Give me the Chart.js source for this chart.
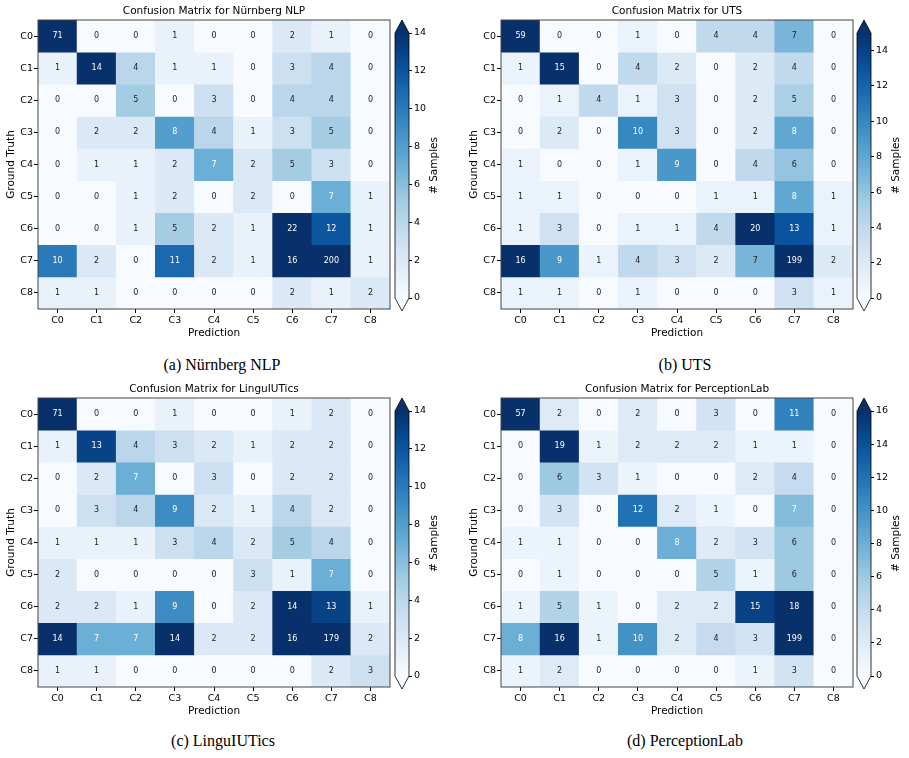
<!DOCTYPE html>
<html>
<head>
<meta charset="utf-8">
<script src="https://cdn.jsdelivr.net/npm/chart.js@4.4.0/dist/chart.umd.min.js"></script>
<style>
body { margin: 0; background: #fff; width: 909px; height: 758px; overflow: hidden; position: relative; }
.box { position: absolute; }
.cap { position: absolute; width: 300px; text-align: center; font-family: "Liberation Serif", "Times New Roman", serif; font-size: 16px; color: #000; }
</style>
</head>
<body>
<div class="box" style="left:0;top:0;width:391px;height:345px"><canvas id="m0"></canvas></div>
<div class="box" style="left:394px;top:0;width:53px;height:330px"><canvas id="c0"></canvas></div>
<div class="box" style="left:463px;top:0;width:391px;height:345px"><canvas id="m1"></canvas></div>
<div class="box" style="left:856px;top:0;width:53px;height:330px"><canvas id="c1"></canvas></div>
<div class="box" style="left:0;top:378px;width:391px;height:345px"><canvas id="m2"></canvas></div>
<div class="box" style="left:394px;top:378px;width:53px;height:330px"><canvas id="c2"></canvas></div>
<div class="box" style="left:463px;top:378px;width:391px;height:345px"><canvas id="m3"></canvas></div>
<div class="box" style="left:856px;top:378px;width:53px;height:330px"><canvas id="c3"></canvas></div>
<div class="cap" style="left:72px;top:356px">(a) Nürnberg NLP</div>
<div class="cap" style="left:535px;top:356px">(b) UTS</div>
<div class="cap" style="left:73px;top:732px">(c) LinguIUTics</div>
<div class="cap" style="left:535px;top:732px">(d) PerceptionLab</div>
<script>
// labels
var rowLabels = ['C0', 'C1', 'C2', 'C3', 'C4', 'C5', 'C6', 'C7', 'C8'];
var colLabels = ['C0', 'C1', 'C2', 'C3', 'C4', 'C5', 'C6', 'C7', 'C8'];
var titles = ['Confusion Matrix for Nürnberg NLP', 'Confusion Matrix for UTS',
              'Confusion Matrix for LinguIUTics', 'Confusion Matrix for PerceptionLab'];

// colour scale max for each colorbar
var vmax = [14, 15, 14, 16];
// values above this get white text
var whiteAbove = [6, 7, 6, 6];

// rows = ground truth, cols = prediction
var nurnberg = [
    [71, 0, 0, 1, 0, 0, 2, 1, 0],
    [1, 14, 4, 1, 1, 0, 3, 4, 0],
    [0, 0, 5, 0, 3, 0, 4, 4, 0],
    [0, 2, 2, 8, 4, 1, 3, 5, 0],
    [0, 1, 1, 2, 7, 2, 5, 3, 0],
    [0, 0, 1, 2, 0, 2, 0, 7, 1],
    [0, 0, 1, 5, 2, 1, 22, 12, 1],
    [10, 2, 0, 11, 2, 1, 16, 200, 1],
    [1, 1, 0, 0, 0, 0, 2, 1, 2]
];
var uts = [
    [59, 0, 0, 1, 0, 4, 4, 7, 0],
    [1, 15, 0, 4, 2, 0, 2, 4, 0],
    [0, 1, 4, 1, 3, 0, 2, 5, 0],
    [0, 2, 0, 10, 3, 0, 2, 8, 0],
    [1, 0, 0, 1, 9, 0, 4, 6, 0],
    [1, 1, 0, 0, 0, 1, 1, 8, 1],
    [1, 3, 0, 1, 1, 4, 20, 13, 1],
    [16, 9, 1, 4, 3, 2, 7, 199, 2],
    [1, 1, 0, 1, 0, 0, 0, 3, 1]
];
var linguiutics = [
    [71, 0, 0, 1, 0, 0, 1, 2, 0],
    [1, 13, 4, 3, 2, 1, 2, 2, 0],
    [0, 2, 7, 0, 3, 0, 2, 2, 0],
    [0, 3, 4, 9, 2, 1, 4, 2, 0],
    [1, 1, 1, 3, 4, 2, 5, 4, 0],
    [2, 0, 0, 0, 0, 3, 1, 7, 0],
    [2, 2, 1, 9, 0, 2, 14, 13, 1],
    [14, 7, 7, 14, 2, 2, 16, 179, 2],
    [1, 1, 0, 0, 0, 0, 0, 2, 3]
];
var perceptionlab = [
    [57, 2, 0, 2, 0, 3, 0, 11, 0],
    [0, 19, 1, 2, 2, 2, 1, 1, 0],
    [0, 6, 3, 1, 0, 0, 2, 4, 0],
    [0, 3, 0, 12, 2, 1, 0, 7, 0],
    [1, 1, 0, 0, 8, 2, 3, 6, 0],
    [0, 1, 0, 0, 0, 5, 1, 6, 0],
    [1, 5, 1, 0, 2, 2, 15, 18, 0],
    [8, 16, 1, 10, 2, 4, 3, 199, 0],
    [1, 2, 0, 0, 0, 0, 1, 3, 0]
];
var matrices = [nurnberg, uts, linguiutics, perceptionlab];

// matplotlib Blues
var blues = ['#f7fbff', '#deebf7', '#c6dbef', '#9ecae1', '#6baed6', '#4292c6', '#2171b5', '#08519c', '#08306b'];

function hexRgb(h) {
    return [parseInt(h.substr(1, 2), 16), parseInt(h.substr(3, 2), 16), parseInt(h.substr(5, 2), 16)];
}
function blueAt(t) {
    t = Math.max(0, Math.min(1, t));
    var p = t * 8, i = Math.min(7, Math.floor(p)), f = p - i;
    var a = hexRgb(blues[i]), b = hexRgb(blues[i + 1]);
    return 'rgb(' + Math.round(a[0] + (b[0] - a[0]) * f) + ',' + Math.round(a[1] + (b[1] - a[1]) * f) + ',' + Math.round(a[2] + (b[2] - a[2]) * f) + ')';
}

Chart.defaults.font.family = '"DejaVu Sans", sans-serif';
Chart.defaults.color = '#000';

function makeMatrix(k) {
    var m = matrices[k];
    var datasets = m.map(function(row, r) {
        return {
            data: row.map(function() { return [r, r + 1]; }),
            backgroundColor: function(c) { return blueAt(m[r][c.dataIndex] / vmax[k]); },
            borderWidth: 0,
            barPercentage: 1,
            categoryPercentage: 1,
            grouped: false
        };
    });

    var cellText = {
        id: 'cellText',
        afterDatasetsDraw: function(chart) {
            var ctx = chart.ctx;
            ctx.save();
            ctx.font = '8px "DejaVu Sans"';
            ctx.textAlign = 'center';
            ctx.textBaseline = 'middle';
            m.forEach(function(row, r) {
                chart.getDatasetMeta(r).data.forEach(function(bar, i) {
                    var p = bar.getCenterPoint();
                    ctx.fillStyle = row[i] > whiteAbove[k] ? '#fff' : '#222';
                    ctx.fillText(String(row[i]), p.x, p.y);
                });
            });
            ctx.restore();
        }
    };
    // frame + title centred over the axes (not the whole canvas)
    var frame = {
        id: 'frame',
        afterDraw: function(chart) {
            var a = chart.chartArea, ctx = chart.ctx;
            ctx.save();
            ctx.strokeStyle = '#444';
            ctx.lineWidth = 1;
            ctx.strokeRect(a.left, a.top, a.right - a.left, a.bottom - a.top);
            ctx.fillStyle = '#000';
            ctx.font = '10.5px "DejaVu Sans"';
            ctx.textAlign = 'center';
            ctx.textBaseline = 'middle';
            ctx.fillText(titles[k], (a.left + a.right) / 2, a.top - 9);
            ctx.restore();
        }
    };

    new Chart(document.getElementById('m' + k), {
        type: 'bar',
        data: { labels: colLabels, datasets: datasets },
        options: {
            responsive: true,
            maintainAspectRatio: false,
            animation: false,
            layout: { padding: { top: 20, right: 1 } },
            plugins: {
                legend: { display: false },
                tooltip: { enabled: false }
            },
            scales: {
                x: {
                    grid: { drawOnChartArea: false, drawTicks: true, tickLength: 4, color: '#000', offset: false },
                    border: { display: false },
                    ticks: { font: { size: 9.5 }, color: '#000', padding: 2, maxRotation: 0 },
                    title: { display: true, text: 'Prediction', color: '#000', font: { size: 10.5 }, padding: { top: 0, bottom: 5 } },
                    afterFit: function(s) { s.height = 36; }
                },
                y: {
                    type: 'linear',
                    min: 0,
                    max: rowLabels.length,
                    reverse: true,
                    afterBuildTicks: function(s) {
                        s.ticks = rowLabels.map(function(l, i) { return { value: i + 0.5 }; });
                    },
                    grid: { drawOnChartArea: false, drawTicks: true, tickLength: 4, color: '#000' },
                    border: { display: false },
                    ticks: {
                        font: { size: 9.5 }, color: '#000', padding: 1,
                        callback: function(v) { return rowLabels[Math.floor(v)]; }
                    },
                    title: { display: true, text: 'Ground Truth', color: '#000', font: { size: 10.5 }, padding: { top: 5, bottom: 0 } },
                    afterFit: function(s) { s.width = 38; }
                }
            }
        },
        plugins: [cellText, frame]
    });
}

function makeColorbar(k) {
    var ends = {
        id: 'ends',
        afterDatasetsDraw: function(chart) {
            var a = chart.chartArea, ctx = chart.ctx, h = 13, mid = (a.left + a.right) / 2;
            ctx.save();
            ctx.fillStyle = blues[8];
            ctx.beginPath();
            ctx.moveTo(a.left, a.top); ctx.lineTo(mid, a.top - h); ctx.lineTo(a.right, a.top);
            ctx.closePath(); ctx.fill();
            ctx.fillStyle = blues[0];
            ctx.beginPath();
            ctx.moveTo(a.left, a.bottom); ctx.lineTo(mid, a.bottom + h); ctx.lineTo(a.right, a.bottom);
            ctx.closePath(); ctx.fill();
            // outline round the bar and both arrows
            ctx.strokeStyle = '#000';
            ctx.lineWidth = 0.8;
            ctx.beginPath();
            ctx.moveTo(a.left, a.top); ctx.lineTo(mid, a.top - h); ctx.lineTo(a.right, a.top);
            ctx.lineTo(a.right, a.bottom); ctx.lineTo(mid, a.bottom + h); ctx.lineTo(a.left, a.bottom);
            ctx.closePath(); ctx.stroke();
            // colorbar label
            ctx.translate(a.right + 25, (a.top + a.bottom) / 2);
            ctx.rotate(-Math.PI / 2);
            ctx.fillStyle = '#000';
            ctx.font = '10.5px "DejaVu Sans"';
            ctx.textAlign = 'center';
            ctx.textBaseline = 'middle';
            ctx.fillText('# Samples', 0, 0);
            ctx.restore();
        }
    };

    new Chart(document.getElementById('c' + k), {
        type: 'bar',
        data: {
            labels: [''],
            datasets: [{
                data: [[0, vmax[k]]],
                backgroundColor: function(c) {
                    var a = c.chart.chartArea;
                    if (!a) return blues[4];
                    var g = c.chart.ctx.createLinearGradient(0, a.bottom, 0, a.top);
                    blues.forEach(function(col, i) { g.addColorStop(i / (blues.length - 1), col); });
                    return g;
                },
                borderWidth: 0,
                barPercentage: 1,
                categoryPercentage: 1
            }]
        },
        options: {
            responsive: true,
            maintainAspectRatio: false,
            animation: false,
            layout: { padding: { top: 33, bottom: 32, left: 1, right: 0 } },
            plugins: { legend: { display: false }, tooltip: { enabled: false } },
            scales: {
                x: { display: false },
                y: {
                    position: 'right',
                    min: 0,
                    max: vmax[k],
                    grid: { drawOnChartArea: false, drawTicks: true, tickLength: 3, color: '#000' },
                    border: { display: false },
                    ticks: { stepSize: 2, includeBounds: false, font: { size: 9.5 }, color: '#000', padding: 2 },
                    afterFit: function(s) { s.width = 38; }
                }
            }
        },
        plugins: [ends]
    });
}

for (var k = 0; k < 4; k++) {
    makeMatrix(k);
    makeColorbar(k);
}
</script>
</body>
</html>
